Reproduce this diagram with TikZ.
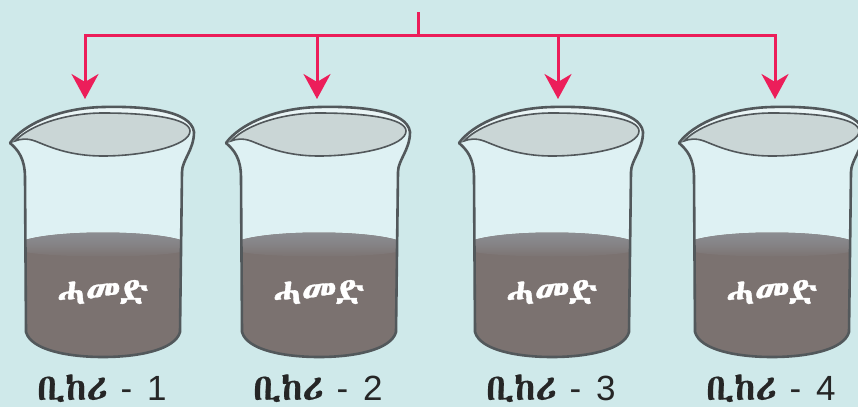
\documentclass[tikz,border=0pt]{standalone}
\usepackage{fontspec}
\setmainfont{Liberation Sans}
\IfFontExistsTF{Abyssinica SIL}
  {\newfontfamily\ethi[FakeBold=0.9]{Abyssinica SIL}\newfontfamily\ethicap[FakeBold=0.5]{Abyssinica SIL}}
  {\newfontfamily\ethi[FakeBold=0.9]{FreeSerif.otf}\newfontfamily\ethicap[FakeBold=0.5]{FreeSerif.otf}}
\usetikzlibrary{arrows.meta}

\definecolor{bg}{RGB}{207,233,234}
\definecolor{flow}{RGB}{236,30,90}
\definecolor{glass}{RGB}{222,241,243}
\definecolor{rimin}{RGB}{202,214,214}
\definecolor{rimglass}{RGB}{234,245,246}
\definecolor{edge}{RGB}{82,88,91}
\definecolor{soil}{RGB}{123,114,112}
\definecolor{soiltop}{RGB}{140,143,148}

\newcommand{\capword}{{\ethicap\fontsize{37}{37}\selectfont ቢከሪ}}

\tikzset{
  flowline/.style={draw=flow, line width=3pt},
  flowarrow/.style={flowline, -{Stealth[length=25pt,width=27pt,inset=8pt]}},
  soiltext/.style={text=white, font=\ethi\fontsize{37}{37}\selectfont},
  caption/.style={text=black!85, font=\fontsize{35}{35}\selectfont,
    anchor=base, inner sep=0pt, text depth=0pt, text height=26pt},
  beaker/.pic={
    % glass body
    \fill[glass] (-93,143) .. controls (-85,150) and (-78,158) .. (-78,178)
      -- (-77,332) .. controls (-72,350) and (-35,357) .. (0,357)
      .. controls (35,357) and (72,350) .. (77,332)
      -- (79,172) .. controls (79,160) and (91,150) .. (91,132)
      .. controls (88,110) and (40,106) .. (0,107)
      .. controls (-45,108) and (-80,125) .. (-93,143) -- cycle;
    % soil
    \fill[soil] (-78,240) -- (-77,332) .. controls (-72,350) and (-35,357) .. (0,357)
      .. controls (35,357) and (72,350) .. (77,332) -- (78,240)
      .. controls (45,230) and (-45,230) .. (-78,240) -- cycle;
    \shade[top color=soiltop, bottom color=soil, middle color=soiltop!60!soil]
      (-78,240) .. controls (-45,230) and (45,230) .. (78,240)
      -- (78,252) .. controls (45,258) and (-45,258) .. (-78,252) -- cycle;
    % rim glass and opening
    \fill[rimglass] (91,132) .. controls (88,110) and (40,106) .. (0,107)
      .. controls (-45,108) and (-80,125) .. (-93,143)
      .. controls (-80,135) and (-40,112) .. (0,112)
      .. controls (45,112) and (86,118) .. (86,132) -- cycle;
    \filldraw[fill=rimin, draw=edge, line width=1.6pt]
      (-88,141) .. controls (-72,124) and (-35,113) .. (0,113)
      .. controls (45,113) and (87,118) .. (87,131)
      .. controls (87,146) and (40,156) .. (0,156)
      .. controls (-35,156) and (-55,146) .. (-68,141)
      .. controls (-76,138) and (-83,139) .. (-88,141) -- cycle;
    % outline
    \draw[edge, line width=2.6pt, line join=round]
      (-93,143) .. controls (-85,150) and (-78,158) .. (-78,178)
      -- (-77,332) .. controls (-72,350) and (-35,357) .. (0,357)
      .. controls (35,357) and (72,350) .. (77,332)
      -- (79,172) .. controls (79,160) and (91,150) .. (91,132)
      .. controls (88,110) and (40,106) .. (0,107)
      .. controls (-45,108) and (-80,125) .. (-93,143) -- cycle;
  }
}

\begin{document}
\begin{tikzpicture}[x=1pt,y=-1pt]
  \fill[bg] (0,0) rectangle (858,407);
  \useasboundingbox (0,0) rectangle (858,407);

  % beakers with their soil and captions
  \foreach \cx/\n in {103/1, 319/2, 552/3, 772/4} {
    \pic at (\cx,0) {beaker};
    \node[soiltext] (soil\n) at (\cx,292) {ሓመድ};
    \node[caption] (cap\n) at (\cx-1,400) {\capword\hspace{13pt}-\hspace{15pt}\n};
  }

  % distribution lines
  \coordinate (src) at (418,12);
  \coordinate (hub) at (418,35);
  \coordinate (b2) at (317,35);
  \coordinate (b3) at (558,35);
  \coordinate (t1) at (85,99);
  \coordinate (t2) at (317,99);
  \coordinate (t3) at (558,99);
  \coordinate (t4) at (775,99);

  \draw[flowline] (src) -- (hub);
  \draw[flowarrow] (hub) -| (t1);
  \draw[flowarrow] (hub) -| (t4);
  \draw[flowarrow] (b2) -- (t2);
  \draw[flowarrow] (b3) -- (t3);
\end{tikzpicture}
\end{document}
